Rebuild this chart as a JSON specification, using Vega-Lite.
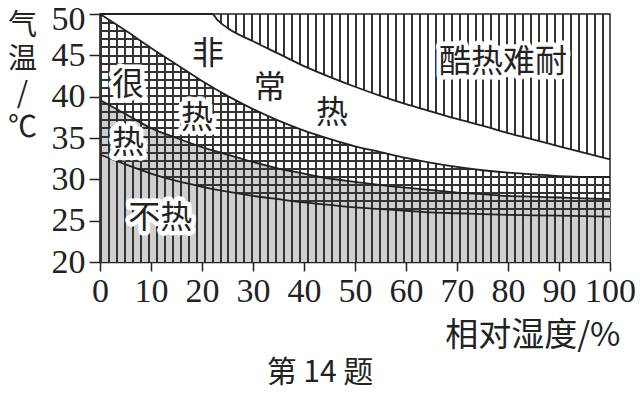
{
"$schema":"https://vega.github.io/schema/vega-lite/v6.json",
"width":510,"height":248,
"autosize":{"type":"none"},
"padding":{"left":100,"top":14,"right":30,"bottom":135},
"background":"white",
"title":{"text":"第 14 题","orient":"bottom","anchor":"middle","frame":"group","fontSize":30,"font":"Noto Sans CJK SC","fontWeight":"normal","color":"#222","dx":-35,"offset":6},
"config":{"view":{"stroke":"#222","strokeWidth":1.5}},
"datasets":{
 "curves":[
  {"x":0,"c2":50,"c3":39.6,"c4":33},{"x":5,"c2":48,"c3":37.9,"c4":31.8},{"x":10,"c2":45.9,"c3":36.2,"c4":30.7},
  {"x":15,"c2":43.9,"c3":35,"c4":29.8},{"x":20,"c2":41.9,"c3":33.9,"c4":29.1},{"x":25,"c2":40.1,"c3":33,"c4":28.5},
  {"x":30,"c2":38.5,"c3":32.1,"c4":28},{"x":35,"c2":37.1,"c3":31.3,"c4":27.6},{"x":40,"c2":35.9,"c3":30.7,"c4":27.2},
  {"x":45,"c2":34.9,"c3":30.1,"c4":26.9},{"x":50,"c2":34,"c3":29.7,"c4":26.6},{"x":55,"c2":33.3,"c3":29.3,"c4":26.4},
  {"x":60,"c2":32.6,"c3":29,"c4":26.2},{"x":65,"c2":32,"c3":28.7,"c4":26},{"x":70,"c2":31.5,"c3":28.4,"c4":25.9},
  {"x":75,"c2":31.1,"c3":28.2,"c4":25.8},{"x":80,"c2":30.8,"c3":28,"c4":25.7},{"x":85,"c2":30.6,"c3":27.9,"c4":25.65},
  {"x":90,"c2":30.4,"c3":27.8,"c4":25.6},{"x":95,"c2":30.3,"c3":27.7,"c4":25.55},{"x":100,"c2":30.3,"c3":27.6,"c4":25.5}
 ],
 "top":[
  {"x":0,"c1":50},{"x":22,"c1":50},{"x":23,"c1":49.3},{"x":25,"c1":48.3},{"x":30,"c1":46.7},{"x":35,"c1":45.2},
  {"x":40,"c1":43.7},{"x":45,"c1":42.4},{"x":50,"c1":41.2},{"x":55,"c1":40.1},{"x":60,"c1":39.1},
  {"x":65,"c1":38.2},{"x":70,"c1":37.3},{"x":75,"c1":36.5},{"x":80,"c1":35.6},{"x":85,"c1":34.8},
  {"x":90,"c1":34},{"x":95,"c1":33.2},{"x":100,"c1":32.4}
 ],
 "labels":[
  {"t":"酷热难耐","x":79,"y":44.2},{"t":"非","x":21.2,"y":45.2},{"t":"常","x":33.3,"y":41},{"t":"热","x":45.5,"y":38},
  {"t":"很","x":5.5,"y":41.4},{"t":"热","x":19,"y":37.4},{"t":"热","x":5.5,"y":34.4},{"t":"不热","x":11.8,"y":25.3}
 ]
},
"encoding":{
 "x":{"field":"x","type":"quantitative","scale":{"domain":[0,100],"nice":false,"zero":false},
  "axis":{"values":[0,10,20,30,40,50,60,70,80,90,100],"grid":false,"title":"相对湿度/%","titleX":520,"titleY":73,"titleAlign":"right","titleBaseline":"middle","titleFontSize":33,"titleFont":"Noto Sans CJK SC","titleFontWeight":"normal","titleColor":"#222","labelFont":"Liberation Serif","labelFontSize":34,"labelColor":"#222","labelPadding":3,"labelFlush":false,"labelOverlap":false,"tickSize":9,"tickColor":"#222","tickWidth":1.5,"domainColor":"#222","domainWidth":1.5}}
},
"layer":[
 {"data":{"name":"curves"},"mark":{"type":"area","fill":"#cfcfcf","interpolate":"monotone"},
  "encoding":{"y":{"field":"c3","type":"quantitative","scale":{"domain":[20,50],"nice":false,"zero":false},
   "axis":{"values":[20,25,30,35,40,45,50],"grid":false,"title":["气","温","/","℃"],"titleAngle":0,"titleAlign":"center","titleBaseline":"top","titleLineHeight":34,"titleFontSize":29,"titleFont":"Noto Sans CJK SC","titleFontWeight":"normal","titleColor":"#222","titleX":-78,"titleY":-3,"labelFont":"Liberation Serif","labelFontSize":34,"labelColor":"#222","labelPadding":4,"labelOffset":{"condition":{"test":"datum.value === 50","value":5},"value":0},"labelFlush":false,"labelOverlap":false,"tickSize":11,"tickColor":"#222","tickWidth":1.5,"domainColor":"#222","domainWidth":1.5}},
   "y2":{"datum":20}}},
 {"data":{"name":"curves"},"mark":{"type":"area","interpolate":"monotone","fill":{"gradient":"linear","x1":0,"y1":0,"x2":1,"y2":0,"stops":[
{"offset":0,"color":"#333"},{"offset":0.0039,"color":"#333"},{"offset":0.0039,"color":"transparent"},{"offset":0.0156,"color":"transparent"},
{"offset":0.0156,"color":"#333"},{"offset":0.0195,"color":"#333"},{"offset":0.0195,"color":"transparent"},{"offset":0.0313,"color":"transparent"},
{"offset":0.0313,"color":"#333"},{"offset":0.0352,"color":"#333"},{"offset":0.0352,"color":"transparent"},{"offset":0.0469,"color":"transparent"},
{"offset":0.0469,"color":"#333"},{"offset":0.0508,"color":"#333"},{"offset":0.0508,"color":"transparent"},{"offset":0.0625,"color":"transparent"},
{"offset":0.0625,"color":"#333"},{"offset":0.0664,"color":"#333"},{"offset":0.0664,"color":"transparent"},{"offset":0.0781,"color":"transparent"},
{"offset":0.0781,"color":"#333"},{"offset":0.082,"color":"#333"},{"offset":0.082,"color":"transparent"},{"offset":0.0938,"color":"transparent"},
{"offset":0.0938,"color":"#333"},{"offset":0.0977,"color":"#333"},{"offset":0.0977,"color":"transparent"},{"offset":0.1094,"color":"transparent"},
{"offset":0.1094,"color":"#333"},{"offset":0.1133,"color":"#333"},{"offset":0.1133,"color":"transparent"},{"offset":0.125,"color":"transparent"},
{"offset":0.125,"color":"#333"},{"offset":0.1289,"color":"#333"},{"offset":0.1289,"color":"transparent"},{"offset":0.1406,"color":"transparent"},
{"offset":0.1406,"color":"#333"},{"offset":0.1445,"color":"#333"},{"offset":0.1445,"color":"transparent"},{"offset":0.1563,"color":"transparent"},
{"offset":0.1563,"color":"#333"},{"offset":0.1602,"color":"#333"},{"offset":0.1602,"color":"transparent"},{"offset":0.1719,"color":"transparent"},
{"offset":0.1719,"color":"#333"},{"offset":0.1758,"color":"#333"},{"offset":0.1758,"color":"transparent"},{"offset":0.1875,"color":"transparent"},
{"offset":0.1875,"color":"#333"},{"offset":0.1914,"color":"#333"},{"offset":0.1914,"color":"transparent"},{"offset":0.2031,"color":"transparent"},
{"offset":0.2031,"color":"#333"},{"offset":0.207,"color":"#333"},{"offset":0.207,"color":"transparent"},{"offset":0.2188,"color":"transparent"},
{"offset":0.2188,"color":"#333"},{"offset":0.2227,"color":"#333"},{"offset":0.2227,"color":"transparent"},{"offset":0.2344,"color":"transparent"},
{"offset":0.2344,"color":"#333"},{"offset":0.2383,"color":"#333"},{"offset":0.2383,"color":"transparent"},{"offset":0.25,"color":"transparent"},
{"offset":0.25,"color":"#333"},{"offset":0.2539,"color":"#333"},{"offset":0.2539,"color":"transparent"},{"offset":0.2656,"color":"transparent"},
{"offset":0.2656,"color":"#333"},{"offset":0.2695,"color":"#333"},{"offset":0.2695,"color":"transparent"},{"offset":0.2813,"color":"transparent"},
{"offset":0.2813,"color":"#333"},{"offset":0.2852,"color":"#333"},{"offset":0.2852,"color":"transparent"},{"offset":0.2969,"color":"transparent"},
{"offset":0.2969,"color":"#333"},{"offset":0.3008,"color":"#333"},{"offset":0.3008,"color":"transparent"},{"offset":0.3125,"color":"transparent"},
{"offset":0.3125,"color":"#333"},{"offset":0.3164,"color":"#333"},{"offset":0.3164,"color":"transparent"},{"offset":0.3281,"color":"transparent"},
{"offset":0.3281,"color":"#333"},{"offset":0.332,"color":"#333"},{"offset":0.332,"color":"transparent"},{"offset":0.3438,"color":"transparent"},
{"offset":0.3438,"color":"#333"},{"offset":0.3477,"color":"#333"},{"offset":0.3477,"color":"transparent"},{"offset":0.3594,"color":"transparent"},
{"offset":0.3594,"color":"#333"},{"offset":0.3633,"color":"#333"},{"offset":0.3633,"color":"transparent"},{"offset":0.375,"color":"transparent"},
{"offset":0.375,"color":"#333"},{"offset":0.3789,"color":"#333"},{"offset":0.3789,"color":"transparent"},{"offset":0.3906,"color":"transparent"},
{"offset":0.3906,"color":"#333"},{"offset":0.3945,"color":"#333"},{"offset":0.3945,"color":"transparent"},{"offset":0.4063,"color":"transparent"},
{"offset":0.4063,"color":"#333"},{"offset":0.4102,"color":"#333"},{"offset":0.4102,"color":"transparent"},{"offset":0.4219,"color":"transparent"},
{"offset":0.4219,"color":"#333"},{"offset":0.4258,"color":"#333"},{"offset":0.4258,"color":"transparent"},{"offset":0.4375,"color":"transparent"},
{"offset":0.4375,"color":"#333"},{"offset":0.4414,"color":"#333"},{"offset":0.4414,"color":"transparent"},{"offset":0.4531,"color":"transparent"},
{"offset":0.4531,"color":"#333"},{"offset":0.457,"color":"#333"},{"offset":0.457,"color":"transparent"},{"offset":0.4688,"color":"transparent"},
{"offset":0.4688,"color":"#333"},{"offset":0.4727,"color":"#333"},{"offset":0.4727,"color":"transparent"},{"offset":0.4844,"color":"transparent"},
{"offset":0.4844,"color":"#333"},{"offset":0.4883,"color":"#333"},{"offset":0.4883,"color":"transparent"},{"offset":0.5,"color":"transparent"},
{"offset":0.5,"color":"#333"},{"offset":0.5039,"color":"#333"},{"offset":0.5039,"color":"transparent"},{"offset":0.5156,"color":"transparent"},
{"offset":0.5156,"color":"#333"},{"offset":0.5195,"color":"#333"},{"offset":0.5195,"color":"transparent"},{"offset":0.5313,"color":"transparent"},
{"offset":0.5313,"color":"#333"},{"offset":0.5352,"color":"#333"},{"offset":0.5352,"color":"transparent"},{"offset":0.5469,"color":"transparent"},
{"offset":0.5469,"color":"#333"},{"offset":0.5508,"color":"#333"},{"offset":0.5508,"color":"transparent"},{"offset":0.5625,"color":"transparent"},
{"offset":0.5625,"color":"#333"},{"offset":0.5664,"color":"#333"},{"offset":0.5664,"color":"transparent"},{"offset":0.5781,"color":"transparent"},
{"offset":0.5781,"color":"#333"},{"offset":0.582,"color":"#333"},{"offset":0.582,"color":"transparent"},{"offset":0.5938,"color":"transparent"},
{"offset":0.5938,"color":"#333"},{"offset":0.5977,"color":"#333"},{"offset":0.5977,"color":"transparent"},{"offset":0.6094,"color":"transparent"},
{"offset":0.6094,"color":"#333"},{"offset":0.6133,"color":"#333"},{"offset":0.6133,"color":"transparent"},{"offset":0.625,"color":"transparent"},
{"offset":0.625,"color":"#333"},{"offset":0.6289,"color":"#333"},{"offset":0.6289,"color":"transparent"},{"offset":0.6406,"color":"transparent"},
{"offset":0.6406,"color":"#333"},{"offset":0.6445,"color":"#333"},{"offset":0.6445,"color":"transparent"},{"offset":0.6563,"color":"transparent"},
{"offset":0.6563,"color":"#333"},{"offset":0.6602,"color":"#333"},{"offset":0.6602,"color":"transparent"},{"offset":0.6719,"color":"transparent"},
{"offset":0.6719,"color":"#333"},{"offset":0.6758,"color":"#333"},{"offset":0.6758,"color":"transparent"},{"offset":0.6875,"color":"transparent"},
{"offset":0.6875,"color":"#333"},{"offset":0.6914,"color":"#333"},{"offset":0.6914,"color":"transparent"},{"offset":0.7031,"color":"transparent"},
{"offset":0.7031,"color":"#333"},{"offset":0.707,"color":"#333"},{"offset":0.707,"color":"transparent"},{"offset":0.7188,"color":"transparent"},
{"offset":0.7188,"color":"#333"},{"offset":0.7227,"color":"#333"},{"offset":0.7227,"color":"transparent"},{"offset":0.7344,"color":"transparent"},
{"offset":0.7344,"color":"#333"},{"offset":0.7383,"color":"#333"},{"offset":0.7383,"color":"transparent"},{"offset":0.75,"color":"transparent"},
{"offset":0.75,"color":"#333"},{"offset":0.7539,"color":"#333"},{"offset":0.7539,"color":"transparent"},{"offset":0.7656,"color":"transparent"},
{"offset":0.7656,"color":"#333"},{"offset":0.7695,"color":"#333"},{"offset":0.7695,"color":"transparent"},{"offset":0.7813,"color":"transparent"},
{"offset":0.7813,"color":"#333"},{"offset":0.7852,"color":"#333"},{"offset":0.7852,"color":"transparent"},{"offset":0.7969,"color":"transparent"},
{"offset":0.7969,"color":"#333"},{"offset":0.8008,"color":"#333"},{"offset":0.8008,"color":"transparent"},{"offset":0.8125,"color":"transparent"},
{"offset":0.8125,"color":"#333"},{"offset":0.8164,"color":"#333"},{"offset":0.8164,"color":"transparent"},{"offset":0.8281,"color":"transparent"},
{"offset":0.8281,"color":"#333"},{"offset":0.832,"color":"#333"},{"offset":0.832,"color":"transparent"},{"offset":0.8438,"color":"transparent"},
{"offset":0.8438,"color":"#333"},{"offset":0.8477,"color":"#333"},{"offset":0.8477,"color":"transparent"},{"offset":0.8594,"color":"transparent"},
{"offset":0.8594,"color":"#333"},{"offset":0.8633,"color":"#333"},{"offset":0.8633,"color":"transparent"},{"offset":0.875,"color":"transparent"},
{"offset":0.875,"color":"#333"},{"offset":0.8789,"color":"#333"},{"offset":0.8789,"color":"transparent"},{"offset":0.8906,"color":"transparent"},
{"offset":0.8906,"color":"#333"},{"offset":0.8945,"color":"#333"},{"offset":0.8945,"color":"transparent"},{"offset":0.9063,"color":"transparent"},
{"offset":0.9063,"color":"#333"},{"offset":0.9102,"color":"#333"},{"offset":0.9102,"color":"transparent"},{"offset":0.9219,"color":"transparent"},
{"offset":0.9219,"color":"#333"},{"offset":0.9258,"color":"#333"},{"offset":0.9258,"color":"transparent"},{"offset":0.9375,"color":"transparent"},
{"offset":0.9375,"color":"#333"},{"offset":0.9414,"color":"#333"},{"offset":0.9414,"color":"transparent"},{"offset":0.9531,"color":"transparent"},
{"offset":0.9531,"color":"#333"},{"offset":0.957,"color":"#333"},{"offset":0.957,"color":"transparent"},{"offset":0.9688,"color":"transparent"},
{"offset":0.9688,"color":"#333"},{"offset":0.9727,"color":"#333"},{"offset":0.9727,"color":"transparent"},{"offset":0.9844,"color":"transparent"},
{"offset":0.9844,"color":"#333"},{"offset":0.9883,"color":"#333"},{"offset":0.9883,"color":"transparent"},{"offset":1,"color":"transparent"}
  ]}},
  "encoding":{"y":{"field":"c2","type":"quantitative","scale":{"domain":[20,50],"nice":false,"zero":false}},"y2":{"datum":20}}},
 {"data":{"name":"top"},"mark":{"type":"area","interpolate":"monotone","fill":{"gradient":"linear","x1":0,"y1":0,"x2":1,"y2":0,"stops":[
{"offset":0,"color":"#333"},{"offset":0.0039,"color":"#333"},{"offset":0.0039,"color":"transparent"},{"offset":0.0156,"color":"transparent"},
{"offset":0.0156,"color":"#333"},{"offset":0.0195,"color":"#333"},{"offset":0.0195,"color":"transparent"},{"offset":0.0313,"color":"transparent"},
{"offset":0.0313,"color":"#333"},{"offset":0.0352,"color":"#333"},{"offset":0.0352,"color":"transparent"},{"offset":0.0469,"color":"transparent"},
{"offset":0.0469,"color":"#333"},{"offset":0.0508,"color":"#333"},{"offset":0.0508,"color":"transparent"},{"offset":0.0625,"color":"transparent"},
{"offset":0.0625,"color":"#333"},{"offset":0.0664,"color":"#333"},{"offset":0.0664,"color":"transparent"},{"offset":0.0781,"color":"transparent"},
{"offset":0.0781,"color":"#333"},{"offset":0.082,"color":"#333"},{"offset":0.082,"color":"transparent"},{"offset":0.0938,"color":"transparent"},
{"offset":0.0938,"color":"#333"},{"offset":0.0977,"color":"#333"},{"offset":0.0977,"color":"transparent"},{"offset":0.1094,"color":"transparent"},
{"offset":0.1094,"color":"#333"},{"offset":0.1133,"color":"#333"},{"offset":0.1133,"color":"transparent"},{"offset":0.125,"color":"transparent"},
{"offset":0.125,"color":"#333"},{"offset":0.1289,"color":"#333"},{"offset":0.1289,"color":"transparent"},{"offset":0.1406,"color":"transparent"},
{"offset":0.1406,"color":"#333"},{"offset":0.1445,"color":"#333"},{"offset":0.1445,"color":"transparent"},{"offset":0.1563,"color":"transparent"},
{"offset":0.1563,"color":"#333"},{"offset":0.1602,"color":"#333"},{"offset":0.1602,"color":"transparent"},{"offset":0.1719,"color":"transparent"},
{"offset":0.1719,"color":"#333"},{"offset":0.1758,"color":"#333"},{"offset":0.1758,"color":"transparent"},{"offset":0.1875,"color":"transparent"},
{"offset":0.1875,"color":"#333"},{"offset":0.1914,"color":"#333"},{"offset":0.1914,"color":"transparent"},{"offset":0.2031,"color":"transparent"},
{"offset":0.2031,"color":"#333"},{"offset":0.207,"color":"#333"},{"offset":0.207,"color":"transparent"},{"offset":0.2188,"color":"transparent"},
{"offset":0.2188,"color":"#333"},{"offset":0.2227,"color":"#333"},{"offset":0.2227,"color":"transparent"},{"offset":0.2344,"color":"transparent"},
{"offset":0.2344,"color":"#333"},{"offset":0.2383,"color":"#333"},{"offset":0.2383,"color":"transparent"},{"offset":0.25,"color":"transparent"},
{"offset":0.25,"color":"#333"},{"offset":0.2539,"color":"#333"},{"offset":0.2539,"color":"transparent"},{"offset":0.2656,"color":"transparent"},
{"offset":0.2656,"color":"#333"},{"offset":0.2695,"color":"#333"},{"offset":0.2695,"color":"transparent"},{"offset":0.2813,"color":"transparent"},
{"offset":0.2813,"color":"#333"},{"offset":0.2852,"color":"#333"},{"offset":0.2852,"color":"transparent"},{"offset":0.2969,"color":"transparent"},
{"offset":0.2969,"color":"#333"},{"offset":0.3008,"color":"#333"},{"offset":0.3008,"color":"transparent"},{"offset":0.3125,"color":"transparent"},
{"offset":0.3125,"color":"#333"},{"offset":0.3164,"color":"#333"},{"offset":0.3164,"color":"transparent"},{"offset":0.3281,"color":"transparent"},
{"offset":0.3281,"color":"#333"},{"offset":0.332,"color":"#333"},{"offset":0.332,"color":"transparent"},{"offset":0.3438,"color":"transparent"},
{"offset":0.3438,"color":"#333"},{"offset":0.3477,"color":"#333"},{"offset":0.3477,"color":"transparent"},{"offset":0.3594,"color":"transparent"},
{"offset":0.3594,"color":"#333"},{"offset":0.3633,"color":"#333"},{"offset":0.3633,"color":"transparent"},{"offset":0.375,"color":"transparent"},
{"offset":0.375,"color":"#333"},{"offset":0.3789,"color":"#333"},{"offset":0.3789,"color":"transparent"},{"offset":0.3906,"color":"transparent"},
{"offset":0.3906,"color":"#333"},{"offset":0.3945,"color":"#333"},{"offset":0.3945,"color":"transparent"},{"offset":0.4063,"color":"transparent"},
{"offset":0.4063,"color":"#333"},{"offset":0.4102,"color":"#333"},{"offset":0.4102,"color":"transparent"},{"offset":0.4219,"color":"transparent"},
{"offset":0.4219,"color":"#333"},{"offset":0.4258,"color":"#333"},{"offset":0.4258,"color":"transparent"},{"offset":0.4375,"color":"transparent"},
{"offset":0.4375,"color":"#333"},{"offset":0.4414,"color":"#333"},{"offset":0.4414,"color":"transparent"},{"offset":0.4531,"color":"transparent"},
{"offset":0.4531,"color":"#333"},{"offset":0.457,"color":"#333"},{"offset":0.457,"color":"transparent"},{"offset":0.4688,"color":"transparent"},
{"offset":0.4688,"color":"#333"},{"offset":0.4727,"color":"#333"},{"offset":0.4727,"color":"transparent"},{"offset":0.4844,"color":"transparent"},
{"offset":0.4844,"color":"#333"},{"offset":0.4883,"color":"#333"},{"offset":0.4883,"color":"transparent"},{"offset":0.5,"color":"transparent"},
{"offset":0.5,"color":"#333"},{"offset":0.5039,"color":"#333"},{"offset":0.5039,"color":"transparent"},{"offset":0.5156,"color":"transparent"},
{"offset":0.5156,"color":"#333"},{"offset":0.5195,"color":"#333"},{"offset":0.5195,"color":"transparent"},{"offset":0.5313,"color":"transparent"},
{"offset":0.5313,"color":"#333"},{"offset":0.5352,"color":"#333"},{"offset":0.5352,"color":"transparent"},{"offset":0.5469,"color":"transparent"},
{"offset":0.5469,"color":"#333"},{"offset":0.5508,"color":"#333"},{"offset":0.5508,"color":"transparent"},{"offset":0.5625,"color":"transparent"},
{"offset":0.5625,"color":"#333"},{"offset":0.5664,"color":"#333"},{"offset":0.5664,"color":"transparent"},{"offset":0.5781,"color":"transparent"},
{"offset":0.5781,"color":"#333"},{"offset":0.582,"color":"#333"},{"offset":0.582,"color":"transparent"},{"offset":0.5938,"color":"transparent"},
{"offset":0.5938,"color":"#333"},{"offset":0.5977,"color":"#333"},{"offset":0.5977,"color":"transparent"},{"offset":0.6094,"color":"transparent"},
{"offset":0.6094,"color":"#333"},{"offset":0.6133,"color":"#333"},{"offset":0.6133,"color":"transparent"},{"offset":0.625,"color":"transparent"},
{"offset":0.625,"color":"#333"},{"offset":0.6289,"color":"#333"},{"offset":0.6289,"color":"transparent"},{"offset":0.6406,"color":"transparent"},
{"offset":0.6406,"color":"#333"},{"offset":0.6445,"color":"#333"},{"offset":0.6445,"color":"transparent"},{"offset":0.6563,"color":"transparent"},
{"offset":0.6563,"color":"#333"},{"offset":0.6602,"color":"#333"},{"offset":0.6602,"color":"transparent"},{"offset":0.6719,"color":"transparent"},
{"offset":0.6719,"color":"#333"},{"offset":0.6758,"color":"#333"},{"offset":0.6758,"color":"transparent"},{"offset":0.6875,"color":"transparent"},
{"offset":0.6875,"color":"#333"},{"offset":0.6914,"color":"#333"},{"offset":0.6914,"color":"transparent"},{"offset":0.7031,"color":"transparent"},
{"offset":0.7031,"color":"#333"},{"offset":0.707,"color":"#333"},{"offset":0.707,"color":"transparent"},{"offset":0.7188,"color":"transparent"},
{"offset":0.7188,"color":"#333"},{"offset":0.7227,"color":"#333"},{"offset":0.7227,"color":"transparent"},{"offset":0.7344,"color":"transparent"},
{"offset":0.7344,"color":"#333"},{"offset":0.7383,"color":"#333"},{"offset":0.7383,"color":"transparent"},{"offset":0.75,"color":"transparent"},
{"offset":0.75,"color":"#333"},{"offset":0.7539,"color":"#333"},{"offset":0.7539,"color":"transparent"},{"offset":0.7656,"color":"transparent"},
{"offset":0.7656,"color":"#333"},{"offset":0.7695,"color":"#333"},{"offset":0.7695,"color":"transparent"},{"offset":0.7813,"color":"transparent"},
{"offset":0.7813,"color":"#333"},{"offset":0.7852,"color":"#333"},{"offset":0.7852,"color":"transparent"},{"offset":0.7969,"color":"transparent"},
{"offset":0.7969,"color":"#333"},{"offset":0.8008,"color":"#333"},{"offset":0.8008,"color":"transparent"},{"offset":0.8125,"color":"transparent"},
{"offset":0.8125,"color":"#333"},{"offset":0.8164,"color":"#333"},{"offset":0.8164,"color":"transparent"},{"offset":0.8281,"color":"transparent"},
{"offset":0.8281,"color":"#333"},{"offset":0.832,"color":"#333"},{"offset":0.832,"color":"transparent"},{"offset":0.8438,"color":"transparent"},
{"offset":0.8438,"color":"#333"},{"offset":0.8477,"color":"#333"},{"offset":0.8477,"color":"transparent"},{"offset":0.8594,"color":"transparent"},
{"offset":0.8594,"color":"#333"},{"offset":0.8633,"color":"#333"},{"offset":0.8633,"color":"transparent"},{"offset":0.875,"color":"transparent"},
{"offset":0.875,"color":"#333"},{"offset":0.8789,"color":"#333"},{"offset":0.8789,"color":"transparent"},{"offset":0.8906,"color":"transparent"},
{"offset":0.8906,"color":"#333"},{"offset":0.8945,"color":"#333"},{"offset":0.8945,"color":"transparent"},{"offset":0.9063,"color":"transparent"},
{"offset":0.9063,"color":"#333"},{"offset":0.9102,"color":"#333"},{"offset":0.9102,"color":"transparent"},{"offset":0.9219,"color":"transparent"},
{"offset":0.9219,"color":"#333"},{"offset":0.9258,"color":"#333"},{"offset":0.9258,"color":"transparent"},{"offset":0.9375,"color":"transparent"},
{"offset":0.9375,"color":"#333"},{"offset":0.9414,"color":"#333"},{"offset":0.9414,"color":"transparent"},{"offset":0.9531,"color":"transparent"},
{"offset":0.9531,"color":"#333"},{"offset":0.957,"color":"#333"},{"offset":0.957,"color":"transparent"},{"offset":0.9688,"color":"transparent"},
{"offset":0.9688,"color":"#333"},{"offset":0.9727,"color":"#333"},{"offset":0.9727,"color":"transparent"},{"offset":0.9844,"color":"transparent"},
{"offset":0.9844,"color":"#333"},{"offset":0.9883,"color":"#333"},{"offset":0.9883,"color":"transparent"},{"offset":1,"color":"transparent"}
  ]}},
  "encoding":{"y":{"field":"c1","type":"quantitative","scale":{"domain":[20,50],"nice":false,"zero":false}},"y2":{"datum":50}}},
 {"data":{"name":"curves"},"mark":{"type":"area","interpolate":"monotone","fill":{"gradient":"linear","x1":0,"y1":0,"x2":0,"y2":1,"stops":[
{"offset":0,"color":"#333"},{"offset":0.01,"color":"#333"},{"offset":0.01,"color":"transparent"},{"offset":0.04,"color":"transparent"},
{"offset":0.04,"color":"#333"},{"offset":0.05,"color":"#333"},{"offset":0.05,"color":"transparent"},{"offset":0.08,"color":"transparent"},
{"offset":0.08,"color":"#333"},{"offset":0.09,"color":"#333"},{"offset":0.09,"color":"transparent"},{"offset":0.12,"color":"transparent"},
{"offset":0.12,"color":"#333"},{"offset":0.13,"color":"#333"},{"offset":0.13,"color":"transparent"},{"offset":0.16,"color":"transparent"},
{"offset":0.16,"color":"#333"},{"offset":0.17,"color":"#333"},{"offset":0.17,"color":"transparent"},{"offset":0.2,"color":"transparent"},
{"offset":0.2,"color":"#333"},{"offset":0.21,"color":"#333"},{"offset":0.21,"color":"transparent"},{"offset":0.24,"color":"transparent"},
{"offset":0.24,"color":"#333"},{"offset":0.25,"color":"#333"},{"offset":0.25,"color":"transparent"},{"offset":0.28,"color":"transparent"},
{"offset":0.28,"color":"#333"},{"offset":0.29,"color":"#333"},{"offset":0.29,"color":"transparent"},{"offset":0.32,"color":"transparent"},
{"offset":0.32,"color":"#333"},{"offset":0.33,"color":"#333"},{"offset":0.33,"color":"transparent"},{"offset":0.36,"color":"transparent"},
{"offset":0.36,"color":"#333"},{"offset":0.37,"color":"#333"},{"offset":0.37,"color":"transparent"},{"offset":0.4,"color":"transparent"},
{"offset":0.4,"color":"#333"},{"offset":0.41,"color":"#333"},{"offset":0.41,"color":"transparent"},{"offset":0.44,"color":"transparent"},
{"offset":0.44,"color":"#333"},{"offset":0.45,"color":"#333"},{"offset":0.45,"color":"transparent"},{"offset":0.48,"color":"transparent"},
{"offset":0.48,"color":"#333"},{"offset":0.49,"color":"#333"},{"offset":0.49,"color":"transparent"},{"offset":0.52,"color":"transparent"},
{"offset":0.52,"color":"#333"},{"offset":0.53,"color":"#333"},{"offset":0.53,"color":"transparent"},{"offset":0.56,"color":"transparent"},
{"offset":0.56,"color":"#333"},{"offset":0.57,"color":"#333"},{"offset":0.57,"color":"transparent"},{"offset":0.6,"color":"transparent"},
{"offset":0.6,"color":"#333"},{"offset":0.61,"color":"#333"},{"offset":0.61,"color":"transparent"},{"offset":0.64,"color":"transparent"},
{"offset":0.64,"color":"#333"},{"offset":0.65,"color":"#333"},{"offset":0.65,"color":"transparent"},{"offset":0.68,"color":"transparent"},
{"offset":0.68,"color":"#333"},{"offset":0.69,"color":"#333"},{"offset":0.69,"color":"transparent"},{"offset":0.72,"color":"transparent"},
{"offset":0.72,"color":"#333"},{"offset":0.73,"color":"#333"},{"offset":0.73,"color":"transparent"},{"offset":0.76,"color":"transparent"},
{"offset":0.76,"color":"#333"},{"offset":0.77,"color":"#333"},{"offset":0.77,"color":"transparent"},{"offset":0.8,"color":"transparent"},
{"offset":0.8,"color":"#333"},{"offset":0.81,"color":"#333"},{"offset":0.81,"color":"transparent"},{"offset":0.84,"color":"transparent"},
{"offset":0.84,"color":"#333"},{"offset":0.85,"color":"#333"},{"offset":0.85,"color":"transparent"},{"offset":0.88,"color":"transparent"},
{"offset":0.88,"color":"#333"},{"offset":0.89,"color":"#333"},{"offset":0.89,"color":"transparent"},{"offset":0.92,"color":"transparent"},
{"offset":0.92,"color":"#333"},{"offset":0.93,"color":"#333"},{"offset":0.93,"color":"transparent"},{"offset":0.96,"color":"transparent"},
{"offset":0.96,"color":"#333"},{"offset":0.97,"color":"#333"},{"offset":0.97,"color":"transparent"},{"offset":1,"color":"transparent"}
  ]}},
  "encoding":{"y":{"field":"c2","type":"quantitative","scale":{"domain":[20,50],"nice":false,"zero":false}},"y2":{"field":"c4"}}},
 {"data":{"name":"top"},"mark":{"type":"line","color":"#222","strokeWidth":1.8,"interpolate":"monotone"},
  "encoding":{"y":{"field":"c1","type":"quantitative","scale":{"domain":[20,50],"nice":false,"zero":false}}}},
 {"data":{"name":"curves"},"mark":{"type":"line","color":"#222","strokeWidth":1.8,"interpolate":"monotone"},
  "encoding":{"y":{"field":"c2","type":"quantitative","scale":{"domain":[20,50],"nice":false,"zero":false}}}},
 {"data":{"name":"curves"},"mark":{"type":"line","color":"#222","strokeWidth":1.8,"interpolate":"monotone"},
  "encoding":{"y":{"field":"c3","type":"quantitative","scale":{"domain":[20,50],"nice":false,"zero":false}}}},
 {"data":{"name":"curves"},"mark":{"type":"line","color":"#222","strokeWidth":1.8,"interpolate":"monotone"},
  "encoding":{"y":{"field":"c4","type":"quantitative","scale":{"domain":[20,50],"nice":false,"zero":false}}}},
 {"data":{"name":"labels"},"mark":{"type":"text","font":"Noto Sans CJK SC","fontSize":32,"fill":"white","stroke":"white","strokeWidth":9,"strokeJoin":"round","align":"center","baseline":"middle"},
  "encoding":{"y":{"field":"y","type":"quantitative","scale":{"domain":[20,50],"nice":false,"zero":false}},"text":{"field":"t"}}},
 {"data":{"name":"labels"},"mark":{"type":"text","font":"Noto Sans CJK SC","fontSize":32,"color":"#222","align":"center","baseline":"middle"},
  "encoding":{"y":{"field":"y","type":"quantitative","scale":{"domain":[20,50],"nice":false,"zero":false}},"text":{"field":"t"}}}
]
}
